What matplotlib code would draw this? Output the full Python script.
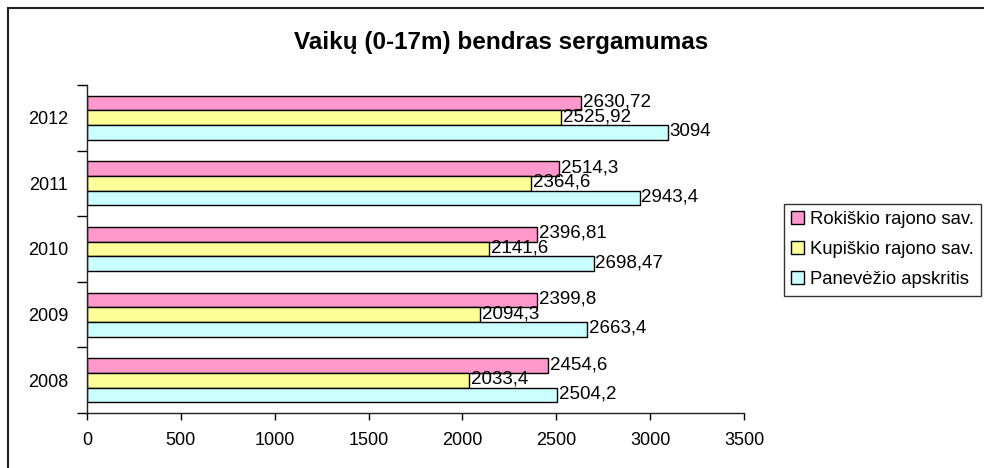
import matplotlib
matplotlib.use("Agg")
import matplotlib.pyplot as plt
import numpy as np
from matplotlib.patches import Rectangle

plt.rcParams['font.family'] = ['Liberation Sans', 'DejaVu Sans']

years = ["2008", "2009", "2010", "2011", "2012"]
series_names = ["Rokiškio rajono sav.", "Kupiškio rajono sav.", "Panevėžio apskritis"]
rokiskio = [2454.6, 2399.8, 2396.81, 2514.3, 2630.72]
kupiskio = [2033.4, 2094.3, 2141.6, 2364.6, 2525.92]
panevezio = [2504.2, 2663.4, 2698.47, 2943.4, 3094]
labels_rok = ["2454,6", "2399,8", "2396,81", "2514,3", "2630,72"]
labels_kup = ["2033,4", "2094,3", "2141,6", "2364,6", "2525,92"]
labels_pan = ["2504,2", "2663,4", "2698,47", "2943,4", "3094"]
colors = ["#FF99CC", "#FFFF99", "#CCFFFF"]
title = "Vaikų (0-17m) bendras sergamumas"

W, H = 984, 468
fig = plt.figure(figsize=(W / 100, H / 100), dpi=100)
fig.patches.append(Rectangle((8 / W, -0.05), 1.2, (H - 8) / H + 0.05,
                             transform=fig.transFigure, fill=False,
                             edgecolor="#222222", linewidth=1.5, zorder=0))

ax = fig.add_axes([87 / W, 1 - 413 / H, (744 - 87) / W, (413 - 85) / H])

y = np.arange(len(years))
h = 0.224
series = [rokiskio, kupiskio, panevezio]
labs = [labels_rok, labels_kup, labels_pan]
offsets = [h, 0, -h]
for vals, lab, off, col, name in zip(series, labs, offsets, colors, series_names):
    bars = ax.barh(y + off, vals, height=h, color=col, edgecolor="black",
                   linewidth=1.0, label=name)
    for b, t in zip(bars, lab):
        ax.text(b.get_width() + 10, b.get_y() + b.get_height() / 2 + 0.015, t,
                va="center", ha="left", fontsize=13.5)

ax.set_xlim(0, 3500)
ax.set_ylim(-0.5, len(years) - 0.5)
ax.set_xticks(np.arange(0, 3501, 500))
ax.set_xticklabels([str(v) for v in range(0, 3501, 500)], fontsize=13)
ax.set_yticks(np.arange(-0.5, len(years), 1.0))
ax.set_yticklabels([])
ax.set_yticks(y, minor=True)
ax.set_yticklabels(years, minor=True, fontsize=13)
ax.tick_params(axis="y", which="major", direction="out", length=7, width=1)
ax.tick_params(axis="y", which="minor", length=0, pad=13.5)
ax.tick_params(axis="x", direction="out", length=5, width=1, pad=9)
for s in ["top", "right"]:
    ax.spines[s].set_visible(False)
for s in ["left", "bottom"]:
    ax.spines[s].set_color("#222222")
    ax.spines[s].set_linewidth(1.0)

fig.text(501 / W, 1 - 43 / H, title, ha="center", va="center",
         fontsize=17.5, fontweight="bold")

handles, lbls = ax.get_legend_handles_labels()
leg = fig.legend(handles, lbls, loc="upper left",
                 bbox_to_anchor=(784 / W, 1 - 204 / H),
                 fontsize=13.3, frameon=True, fancybox=False,
                 edgecolor="black", handlelength=0.7, handleheight=0.7,
                 handletextpad=0.3, labelspacing=0.7, borderpad=0.4,
                 borderaxespad=0)
leg.get_frame().set_linewidth(1.0)

fig.savefig("out.png", dpi=100)
